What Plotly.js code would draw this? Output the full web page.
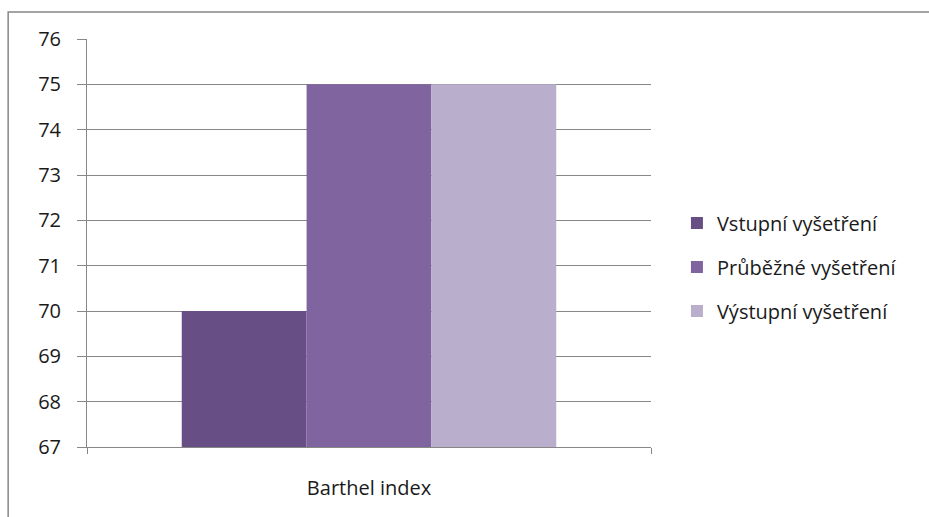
<!DOCTYPE html>
<html>
<head>
<meta charset="utf-8">
<script src="https://cdn.plot.ly/plotly-3.0.1.min.js"></script>
<style>
  html, body { margin: 0; padding: 0; background: #ffffff; }
  #chart { width: 929px; height: 517px; }
</style>
</head>
<body>
<div id="chart"></div>
<script>
// Barthel index scores at three assessment points
const categories = ["Barthel index"];
const seriesNames = ["Vstupní vyšetření", "Průběžné vyšetření", "Výstupní vyšetření"];
const vstupni = [70];
const prubezne = [75];
const vystupni = [75];
const seriesColors = ["#674F86", "#7F64A0", "#B9AECB"];
const yTicks = [67, 68, 69, 70, 71, 72, 73, 74, 75, 76];

const seriesValues = [vstupni, prubezne, vystupni];
const traces = seriesNames.map((name, i) => ({
  type: "bar",
  name: name,
  x: categories,
  y: seriesValues[i],
  marker: { color: seriesColors[i], line: { width: 0 } },
  legendgroup: "g" + i,
  hoverinfo: "name+y"
}));

const gray = "#878787";
const textColor = "#1a1a1a";
const layout = {
  width: 929,
  height: 517,
  margin: { l: 87, r: 278, t: 39, b: 70 },
  paper_bgcolor: "#ffffff",
  plot_bgcolor: "#ffffff",
  font: { family: "'Open Sans', Lato, sans-serif", size: 20, color: textColor },
  barmode: "group",
  bargap: 0.336,
  bargroupgap: 0,
  showlegend: true,
  legend: {
    x: 1.046, y: 0.441, yanchor: "middle", xanchor: "left",
    font: { size: 20, color: textColor },
    tracegroupgap: 15,
    bgcolor: "rgba(0,0,0,0)"
  },
  xaxis: {
    type: "category",
    showline: true, linecolor: gray, linewidth: 1,
    ticks: "outside", tickson: "boundaries", ticklen: 6, tickcolor: gray,
    showgrid: false,
    tickfont: { size: 20, color: textColor },
    ticklabelstandoff: 23
  },
  yaxis: {
    range: [67, 76],
    tickvals: yTicks,
    ticktext: yTicks.map(String),
    showline: true, linecolor: gray, linewidth: 1,
    ticks: "outside", ticklen: 9, tickcolor: gray,
    showgrid: true, gridcolor: gray, gridwidth: 1,
    zeroline: false,
    tickfont: { size: 20, color: textColor },
    ticklabelstandoff: 12
  },
  shapes: [{
    type: "rect", xref: "paper", yref: "paper",
    x0: -0.1398, x1: 1.6, y0: -0.3, y1: 1.066,
    line: { color: gray, width: 1.5 },
    fillcolor: "rgba(0,0,0,0)",
    layer: "below"
  }]
};

Plotly.newPlot("chart", traces, layout, { displayModeBar: false, staticPlot: true });
</script>
</body>
</html>
